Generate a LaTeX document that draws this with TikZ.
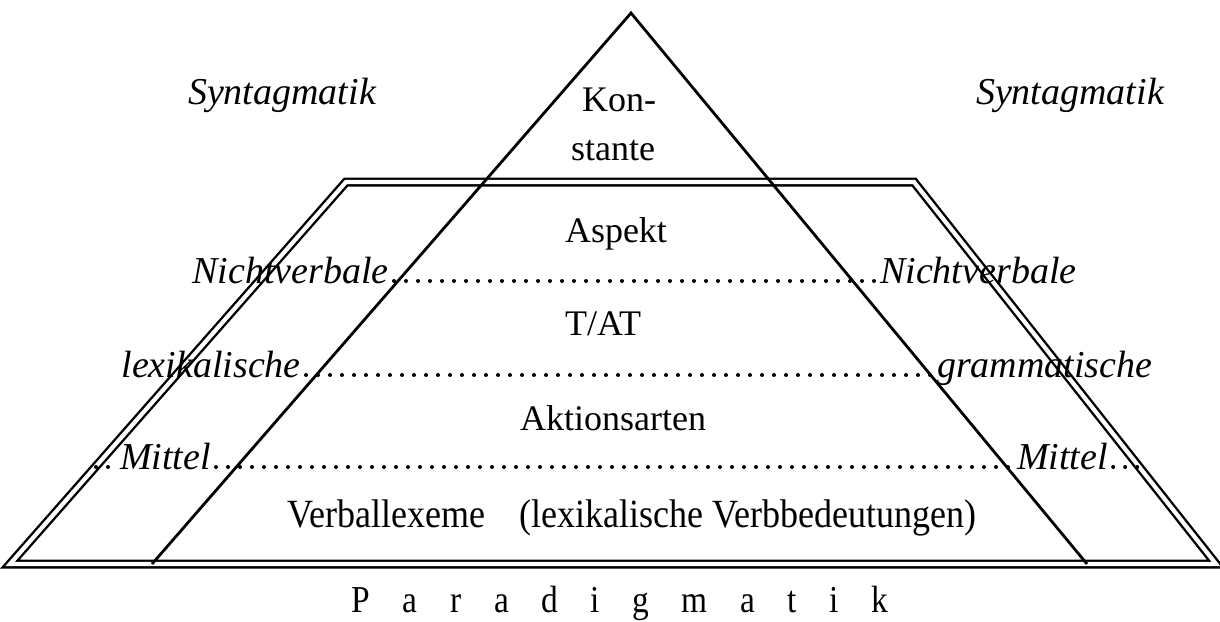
\documentclass[tikz,border=0pt]{standalone}
\usepackage{fontspec}
\setmainfont{Liberation Serif}
\begin{document}
\begin{tikzpicture}[x=1pt,y=-1pt,
  dbl/.style={draw, line width=2.4pt, double, double distance=4.2pt, line join=miter},
  tri/.style={draw, line width=2.8pt, line join=miter},
  dotline/.style={line width=4pt, line cap=round, dash pattern=on 0pt off 12pt, shorten <=5pt, shorten >=5pt},
  side/.style={font=\fontsize{38}{40}\selectfont\itshape, inner sep=0pt},
  level/.style={font=\fontsize{36}{40}\selectfont, inner sep=0pt, anchor=base}]
\useasboundingbox (0,0) rectangle (1220,621);
% trapezoid (double line)
\coordinate (tbl) at (10,564);
\coordinate (ttl) at (346,182);
\coordinate (ttr) at (914,182);
\coordinate (tbr) at (1216,564);
\draw[dbl] (tbl) -- (ttl) -- (ttr) -- (tbr) -- cycle;
% triangle
\coordinate (apex) at (631,13);
\coordinate (bl) at (152,564);
\coordinate (br) at (1087,564);
\draw[tri] (bl) -- (apex) -- (br);
% edge points for bottom dotted line
\coordinate (eL) at (94,467);
\coordinate (eR) at (1143,467);
% top labels
\node[side, anchor=base] (synL) at (282,104) {Syntagmatik};
\node[side, anchor=base] (synR) at (1070,104) {Syntagmatik};
\node[level] (kon) at (619,111) {Kon-};
\node[level] (stante) at (613,160) {stante};
% levels
\node[level] (asp) at (616,242) {Aspekt};
\node[level, anchor=base west] (tat) at (565,335) {T/AT};
\node[level] (akt) at (613,430) {Aktionsarten};
\node[level, font=\fontsize{40}{44}\selectfont] (verb) at (632,527) {\scalebox{0.9}[1]{Verballexeme\hspace{0.7em} (lexikalische Verbbedeutungen)}};
\node[level, font=\fontsize{38}{44}\selectfont] (para) at (620,612) {\scalebox{0.88}[1]{P\hspace{37pt}a\hspace{37pt}r\hspace{37pt}a\hspace{37pt}d\hspace{37pt}i\hspace{37pt}g\hspace{37pt}m\hspace{37pt}a\hspace{37pt}t\hspace{37pt}i\hspace{37pt}k}};
% side labels
\node[side, anchor=mid east] (nvL) at (389,281) {Nichtverbale};
\node[side, anchor=mid west] (nvR) at (880,281) {Nichtverbale};
\node[side, anchor=mid east] (lex) at (301,375) {lexikalische};
\node[side, anchor=mid west] (gram) at (937,375) {grammatische};
\node[side, anchor=mid east] (mL) at (211,467) {Mittel};
\node[side, anchor=mid west] (mR) at (1017,467) {Mittel};
% dotted lines
\draw[dotline] (nvL.mid east) -- (nvR.mid west);
\draw[dotline] (lex.mid east) -- (gram.mid west);
\draw[dotline, shorten <=2pt] (eL) -- (mL.mid west);
\draw[dotline] (mL.mid east) -- (mR.mid west);
\draw[dotline, shorten >=2pt] (mR.mid east) -- (eR);
\end{tikzpicture}
\end{document}
